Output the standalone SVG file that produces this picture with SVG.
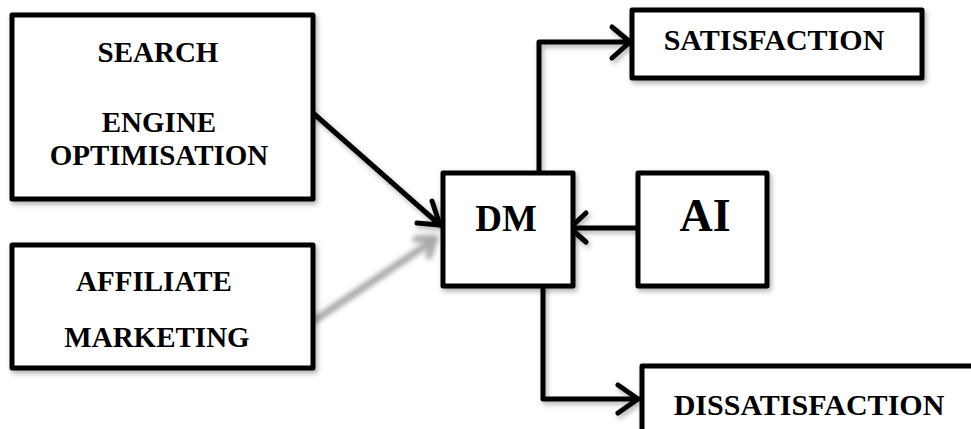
<svg xmlns="http://www.w3.org/2000/svg" width="971" height="429" viewBox="0 0 971 429">
<style>
.box{fill:#fff;stroke:#000;stroke-width:5;stroke-linejoin:round}
.t{font-family:"Liberation Serif","Times New Roman",serif;font-weight:bold;fill:#000;text-anchor:middle}
.c{fill:none;stroke:#000;stroke-width:5;stroke-linecap:round;stroke-linejoin:round}
.g{fill:none;stroke:#a8a8a8;stroke-width:7;stroke-linecap:round;stroke-linejoin:round}
</style>
<defs>
<filter id="sh" x="-10%" y="-10%" width="130%" height="130%">
<feDropShadow dx="2" dy="3" stdDeviation="2.5" flood-color="#000" flood-opacity="0.3"/>
</filter>
<filter id="bl" x="-20%" y="-20%" width="140%" height="140%">
<feGaussianBlur stdDeviation="2.5"/>
</filter>
</defs>
<rect width="971" height="429" fill="#fff"/>
<g id="connectors">
<g filter="url(#sh)">
<path class="c" d="M313 113 L440 225"/>
<path class="c" d="M417 223 L440 225 L432 201"/>
<path class="c" d="M638 228 L570 228"/>
<path class="c" d="M586 213 L570 228 L586 242"/>
<path class="c" d="M539 173 L539 42 L630 42"/>
<path class="c" d="M612 27 L630 42 L612 58"/>
<path class="c" d="M543 286 L543 399 L638 399"/>
<path class="c" d="M618 385 L638 399 L618 413"/>
</g>
<g filter="url(#bl)">
<path class="g" d="M315 320 L434 240"/>
<path class="g" d="M416 239 L435 238 L429 256"/>
</g>
</g>
<g id="seo" filter="url(#sh)">
<rect class="box" x="12" y="15" width="301" height="184"/>
</g>
<g id="seo-text">
<text class="t" x="158" y="62" font-size="29">SEARCH</text>
<text class="t" x="159" y="132" font-size="29">ENGINE</text>
<text class="t" x="159" y="165" font-size="29">OPTIMISATION</text>
</g>
<g id="affiliate" filter="url(#sh)">
<rect class="box" x="12" y="245" width="301" height="123"/>
</g>
<g id="affiliate-text">
<text class="t" x="154" y="291" font-size="29">AFFILIATE</text>
<text class="t" x="157" y="347" font-size="29">MARKETING</text>
</g>
<g id="dm">
<rect class="box" x="443" y="173" width="130" height="113" filter="url(#sh)"/>
<text class="t" x="506" y="231" font-size="37">DM</text>
</g>
<g id="ai">
<rect class="box" x="638" y="173" width="129" height="113" filter="url(#sh)"/>
<text class="t" x="705" y="231" font-size="46">AI</text>
</g>
<g id="satisfaction">
<rect class="box" x="632" y="10" width="290" height="68" filter="url(#sh)"/>
<text class="t" x="774" y="50" font-size="30">SATISFACTION</text>
</g>
<g id="dissatisfaction">
<rect class="box" x="642" y="366" width="340" height="80" filter="url(#sh)"/>
<text class="t" x="809" y="415" font-size="30">DISSATISFACTION</text>
</g>
</svg>
